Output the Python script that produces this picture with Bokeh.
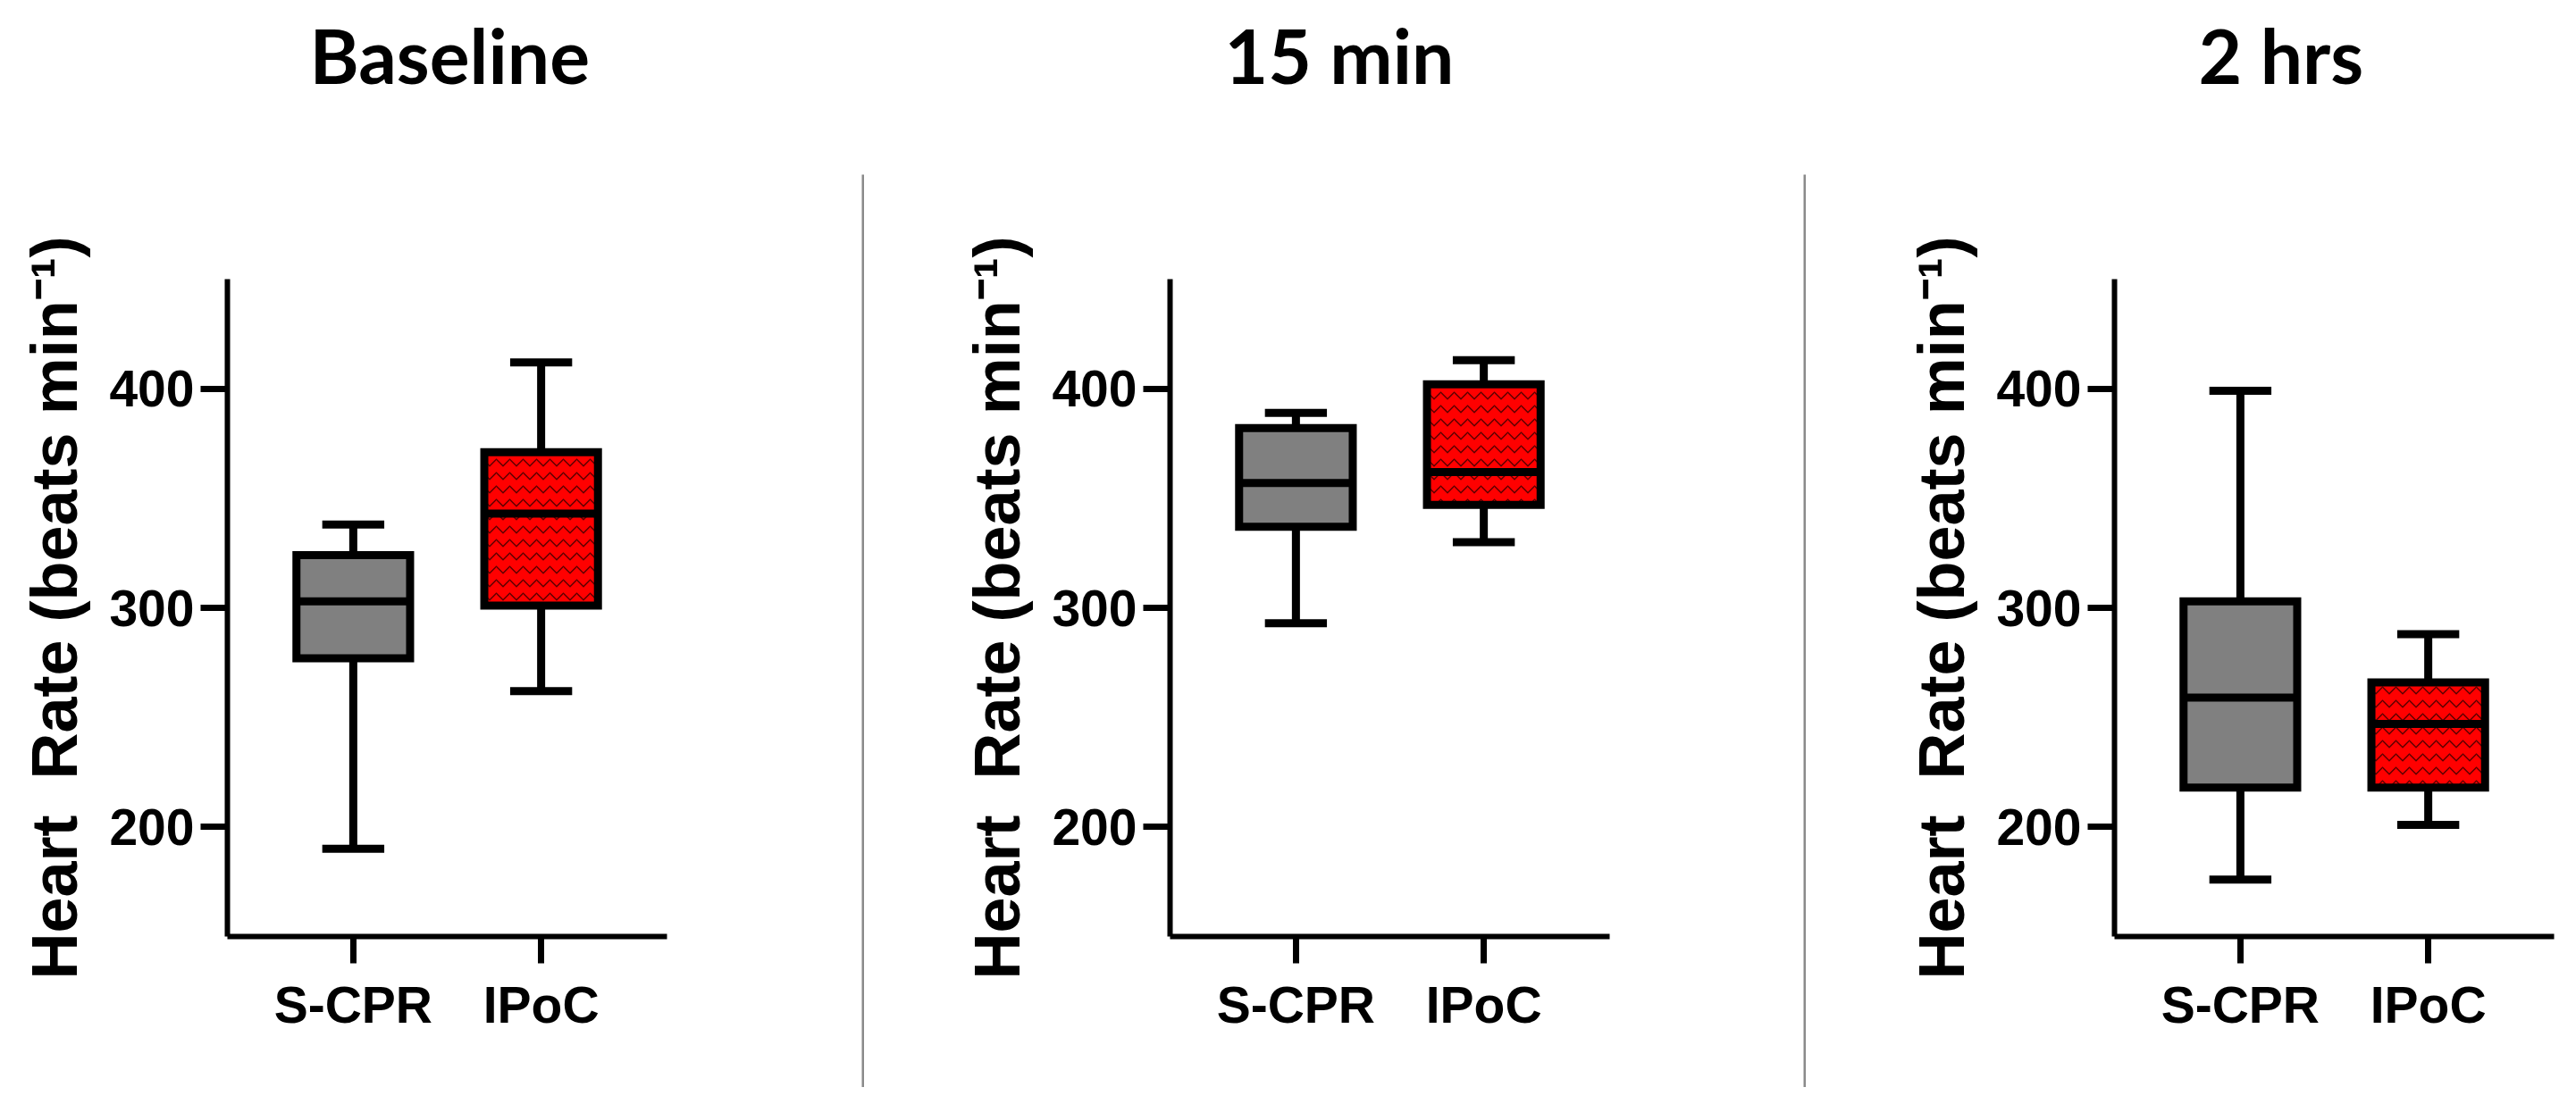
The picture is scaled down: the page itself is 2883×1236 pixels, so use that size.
from bokeh.plotting import figure
from bokeh.layouts import row, column
from bokeh.models import (FactorRange, Range1d, FixedTicker, ColumnDataSource, Spacer,
                          CategoricalAxis)
from bokeh.transform import dodge
from bokeh.embed import file_html
from bokeh.resources import INLINE

# ---------------- data ----------------
categories = ["S-CPR", "IPoC"]
panel_titles = ["Baseline", "15 min", "2 hrs"]
y_label = "Heart\u00a0\u00a0Rate (beats min\u207b\u00b9)"
y_ticks = [200, 300, 400]

baseline_min = [190, 262]
baseline_q1 = [277, 301]
baseline_med = [303, 343]
baseline_q3 = [324, 371]
baseline_max = [338, 412]

min15_min = [293, 330]
min15_q1 = [337, 347]
min15_med = [357, 362]
min15_q3 = [382, 402]
min15_max = [389, 413]

hrs2_min = [176, 201]
hrs2_q1 = [218, 218]
hrs2_med = [259, 247]
hrs2_q3 = [303, 266]
hrs2_max = [399, 288]

box_colors = ["#808080", "#ff0000"]
box_hatch = ["blank", "v"]

# ---------------- styling ----------------
FIG_H = 1230
TOP = 312
FRAME_H = 736
BOTTOM = FIG_H - TOP - FRAME_H
FRAME_W = 492
LW = 9
BOX_W = 0.605
CAP_W = 0.33
TICK_FONT = "Liberation Sans"
TITLE_FONT = "Lato"
TITLE_GAP = 201   # empty space between the title and the plot frame


def make_panel(title, mins, q1, med, q3, maxs, width, left, title_left):
    right = width - left - FRAME_W
    src = ColumnDataSource(dict(cat=categories, lo=mins, q1=q1, med=med, q3=q3, hi=maxs,
                                color=box_colors, hatch=box_hatch))
    p = figure(width=width, height=FIG_H, output_backend="svg", toolbar_location=None,
               x_range=FactorRange(factors=categories, range_padding=0.17,
                                   range_padding_units="absolute"),
               y_range=Range1d(150, 450),
               min_border_left=left, min_border_right=right,
               min_border_top=TOP, min_border_bottom=BOTTOM,
               outline_line_color=None, background_fill_color="white",
               border_fill_color="white")
    p.grid.visible = False

    # invisible spacer axis between frame and title
    gap = CategoricalAxis(axis_line_color=None, major_tick_line_color=None,
                          minor_tick_line_color=None, major_tick_out=TITLE_GAP,
                          major_tick_in=0, major_label_text_font_size="1px",
                          major_label_text_alpha=0, major_label_standoff=0)
    p.add_layout(gap, "above")

    p.title.text = title
    p.title.text_font = TITLE_FONT
    p.title.text_font_style = "bold"
    p.title.text_font_size = "84px"
    p.title.align = "left"
    p.title.offset = title_left
    p.title.standoff = 0
    p.title.text_color = "black"

    # whiskers
    p.segment(x0="cat", y0="q3", x1="cat", y1="hi", source=src, line_color="black", line_width=LW)
    p.segment(x0="cat", y0="lo", x1="cat", y1="q1", source=src, line_color="black", line_width=LW)
    # boxes
    p.vbar(x="cat", bottom="q1", top="q3", width=BOX_W, source=src, fill_color="color",
           line_color="black", line_width=LW, line_join="miter",
           hatch_pattern="hatch", hatch_color="#5a0000", hatch_scale=15, hatch_weight=1.5)
    # medians
    p.segment(x0=dodge("cat", -BOX_W / 2, range=p.x_range), y0="med",
              x1=dodge("cat", BOX_W / 2, range=p.x_range), y1="med",
              source=src, line_color="black", line_width=LW)
    # caps
    for col in ["lo", "hi"]:
        p.segment(x0=dodge("cat", -CAP_W / 2, range=p.x_range), y0=col,
                  x1=dodge("cat", CAP_W / 2, range=p.x_range), y1=col,
                  source=src, line_color="black", line_width=LW)

    for ax in (p.below[0], p.left[0]):
        ax.axis_line_width = 6
        ax.axis_line_color = "black"
        ax.major_tick_line_width = 7
        ax.major_tick_line_color = "black"
        ax.major_tick_out = 30
        ax.major_tick_in = 0
        ax.minor_tick_line_color = None
        ax.major_label_text_font = TICK_FONT
        ax.major_label_text_font_style = "bold"
        ax.major_label_text_font_size = "57px"
        ax.major_label_text_color = "black"
        ax.major_label_standoff = 7

    yax = p.left[0]
    yax.ticker = FixedTicker(ticks=y_ticks)
    yax.axis_label = y_label
    yax.axis_label_text_font = TICK_FONT
    yax.axis_label_text_font_style = "bold"
    yax.axis_label_text_font_size = "72px"
    yax.axis_label_text_color = "black"
    yax.axis_label_standoff = 18
    p.below[0].major_label_standoff = 14
    return p


def separator():
    s = figure(width=3, height=1022, output_backend="svg", toolbar_location=None,
               x_axis_type=None, y_axis_type=None, min_border=0,
               background_fill_color="#8a8a8a", border_fill_color="#8a8a8a",
               outline_line_color=None)
    s.grid.visible = False
    return column(Spacer(width=3, height=195), s)


p1 = make_panel(panel_titles[0], baseline_min, baseline_q1, baseline_med, baseline_q3, baseline_max,
                964, 254, 92)
p2 = make_panel(panel_titles[1], min15_min, min15_q1, min15_med, min15_q3, min15_max,
                1051, 342, 61)
p3 = make_panel(panel_titles[2], hrs2_min, hrs2_q1, hrs2_med, hrs2_q3, hrs2_max,
                854, 345, 94)

layout = row(p1, separator(), p2, separator(), p3)

open("out.html", "w").write(file_html(layout, INLINE))
